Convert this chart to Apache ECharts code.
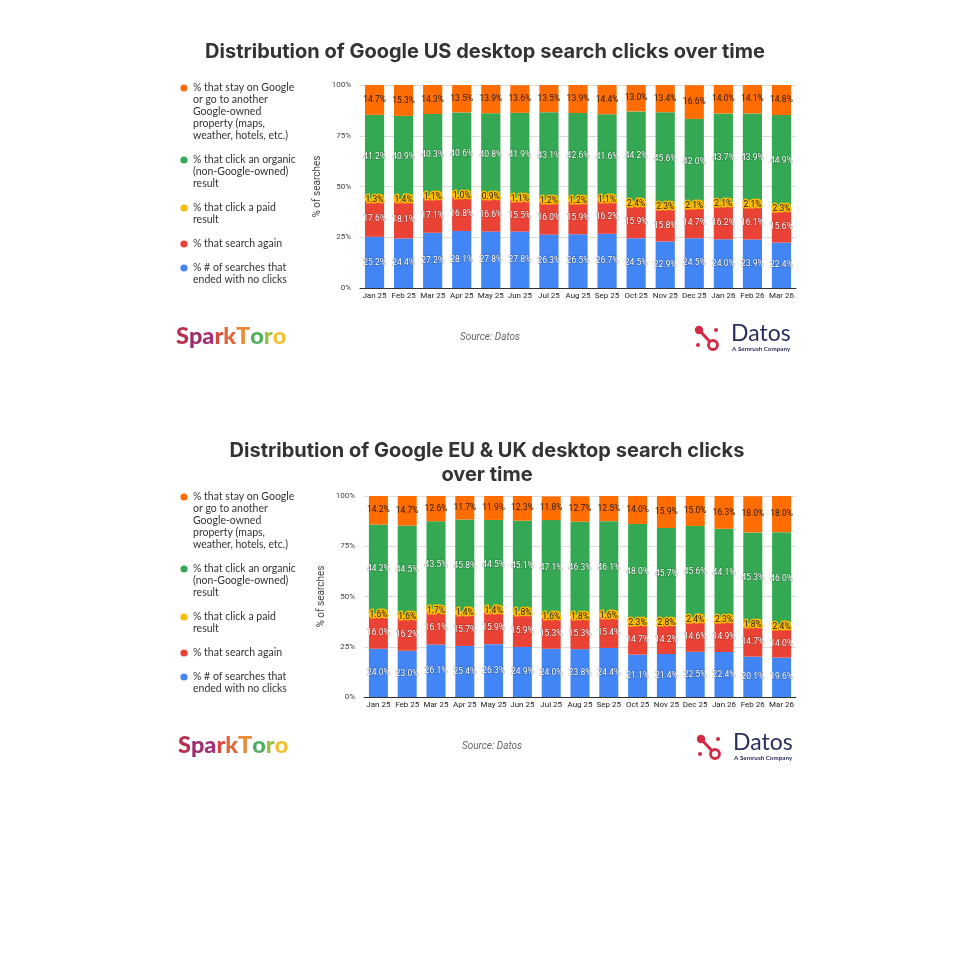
<!DOCTYPE html>
<html>
<head>
<meta charset="utf-8">
<script src="https://cdn.jsdelivr.net/npm/echarts@6/dist/echarts.min.js"></script>
<style>
  html, body { margin: 0; padding: 0; background: #fff; }
  #chart { width: 960px; height: 960px; }
</style>
</head>
<body>
<div id="chart"></div>
<script>
const months = ['Jan 25', 'Feb 25', 'Mar 25', 'Apr 25', 'May 25', 'Jun 25', 'Jul 25', 'Aug 25',
  'Sep 25', 'Oct 25', 'Nov 25', 'Dec 25', 'Jan 26', 'Feb 26', 'Mar 26'];
const yTicks = ['0%', '25%', '50%', '75%', '100%'];

// US desktop
const usNoClick = [25.2, 24.4, 27.2, 28.1, 27.8, 27.8, 26.3, 26.5, 26.7, 24.5, 22.9, 24.5, 24.0, 23.9, 22.4];
const usSearchAgain = [17.6, 18.1, 17.1, 16.8, 16.6, 15.5, 16.0, 15.9, 16.2, 15.9, 15.8, 14.7, 16.2, 16.1, 15.6];
const usPaid = [1.3, 1.4, 1.1, 1.0, 0.9, 1.1, 1.2, 1.2, 1.1, 2.4, 2.3, 2.1, 2.1, 2.1, 2.3];
const usOrganic = [41.2, 40.9, 40.3, 40.6, 40.8, 41.9, 43.1, 42.6, 41.6, 44.2, 45.6, 42.0, 43.7, 43.9, 44.9];
const usGoogle = [14.7, 15.3, 14.3, 13.5, 13.9, 13.6, 13.5, 13.9, 14.4, 13.0, 13.4, 16.6, 14.0, 14.1, 14.8];

// EU & UK desktop
const euNoClick = [24.0, 23.0, 26.1, 25.4, 26.3, 24.9, 24.0, 23.8, 24.4, 21.1, 21.4, 22.5, 22.4, 20.1, 19.6];
const euSearchAgain = [16.0, 16.2, 16.1, 15.7, 15.9, 15.9, 15.3, 15.3, 15.4, 14.7, 14.2, 14.6, 14.9, 14.7, 14.0];
const euPaid = [1.6, 1.6, 1.7, 1.4, 1.4, 1.8, 1.6, 1.8, 1.6, 2.3, 2.8, 2.4, 2.3, 1.8, 2.4];
const euOrganic = [44.2, 44.5, 43.5, 45.8, 44.5, 45.1, 47.1, 46.3, 46.1, 48.0, 45.7, 45.6, 44.1, 45.3, 46.0];
const euGoogle = [14.2, 14.7, 12.6, 11.7, 11.9, 12.3, 11.8, 12.7, 12.5, 14.0, 15.9, 15.0, 16.3, 18.0, 18.0];

const seriesNames = [
  '% # of searches that\nended with no clicks',
  '% that search again',
  '% that click a paid\nresult',
  '% that click an organic\n(non-Google-owned)\nresult',
  '% that stay on Google\nor go to another\nGoogle-owned\nproperty (maps,\nweather, hotels, etc.)'
];
const colors = ['#4285F4', '#EA4335', '#FBBC04', '#34A853', '#FF6D01'];

const chart = echarts.init(document.getElementById('chart'));

function labelFor(i) {
  const dark = i === 2 || i === 4;
  return {
    show: true,
    position: 'inside',
    fontFamily: 'Roboto',
    fontSize: 8.5,
    color: dark ? '#2a1a0a' : '#fff',
    textBorderColor: i === 2 ? '#FBBC04' : (dark ? 'transparent' : 'rgba(0,0,0,0.3)'),
    textBorderWidth: i === 2 ? 3 : 1,
    formatter: p => p.value.toFixed(1) + '%'
  };
}

function makeSeries(idx, arrays) {
  return arrays.map((d, i) => ({
    name: seriesNames[i],
    type: 'bar',
    stack: 'total' + idx,
    xAxisIndex: idx,
    yAxisIndex: idx,
    barWidth: '66%',
    data: d,
    itemStyle: { color: colors[i] },
    label: labelFor(i),
    emphasis: { disabled: true }
  }));
}

function xAxisFor(idx) {
  return {
    type: 'category',
    gridIndex: idx,
    data: months,
    axisLine: { lineStyle: { color: '#333', width: 1 } },
    axisTick: { show: false },
    axisLabel: { interval: 0, fontFamily: 'Roboto', fontSize: 8, color: '#222', margin: 4 }
  };
}

function yAxisFor(idx) {
  return {
    type: 'value',
    gridIndex: idx,
    min: 0,
    max: 100,
    interval: 25,
    name: '% of searches',
    nameLocation: 'middle',
    nameGap: 38,
    nameTextStyle: { fontFamily: 'Roboto', fontSize: 10, color: '#444' },
    axisLine: { show: false },
    axisTick: { show: false },
    axisLabel: {
      fontFamily: 'Roboto', fontSize: 8, color: '#444', margin: 9,
      formatter: v => yTicks[v / 25]
    },
    splitLine: { lineStyle: { color: '#dcdcdc' } }
  };
}

function legendGraphics(y0) {
  const out = [];
  let y = y0;
  for (let i = seriesNames.length - 1; i >= 0; i--) {
    const lines = seriesNames[i].split('\n').length;
    out.push({
      type: 'circle', shape: { cx: 184, cy: y, r: 3.6 },
      style: { fill: colors[i] }, silent: true
    });
    out.push({
      type: 'text',
      style: {
        x: 193, y: y - 6, text: seriesNames[i],
        fontFamily: 'Lato', fontSize: 10.5, lineHeight: 12,
        fill: '#333', verticalAlign: 'top'
      },
      silent: true
    });
    y += lines * 12 + 12;
  }
  return out;
}

const sparkLetters = ['S', 'p', 'a', 'r', 'k', 'T', 'o', 'r', 'o'];
const sparkColors = ['#b8304f', '#9b2f6e', '#a4307a', '#d9483c', '#e2663a', '#ea8a38', '#4fae5e', '#9cbf3c', '#f0c232'];

function footerGraphics(dx, dy) {
  const out = [];
  const rich = {};
  sparkLetters.forEach((c, i) => {
    rich['l' + i] = { fill: sparkColors[i], fontFamily: 'Lato', fontWeight: 900, fontSize: 23.5 };
  });
  out.push({
    type: 'text',
    style: {
      x: 176 + dx, y: 336 + dy, verticalAlign: 'middle',
      text: sparkLetters.map((c, i) => '{l' + i + '|' + c + '}').join(''),
      rich: rich
    },
    silent: true
  });
  out.push({
    type: 'text',
    style: {
      x: 490 + dx, y: 337 + dy, align: 'center', verticalAlign: 'middle',
      text: 'Source: Datos', fontFamily: 'Roboto', fontStyle: 'italic',
      fontSize: 10, fill: '#666'
    },
    silent: true
  });
  const red = '#d42a45';
  out.push({ type: 'line', shape: { x1: 699 + dx, y1: 330 + dy, x2: 712 + dx, y2: 344 + dy }, style: { stroke: red, lineWidth: 3 }, silent: true });
  out.push({ type: 'circle', shape: { cx: 699 + dx, cy: 330 + dy, r: 4.2 }, style: { fill: red }, silent: true });
  out.push({ type: 'circle', shape: { cx: 713 + dx, cy: 345 + dy, r: 4.5 }, style: { fill: '#fff', stroke: red, lineWidth: 2.8 }, silent: true });
  out.push({ type: 'circle', shape: { cx: 716 + dx, cy: 330 + dy, r: 2 }, style: { fill: red }, silent: true });
  out.push({ type: 'circle', shape: { cx: 698 + dx, cy: 345 + dy, r: 2 }, style: { fill: red }, silent: true });
  out.push({
    type: 'text',
    style: {
      x: 731 + dx, y: 334 + dy, verticalAlign: 'middle', text: 'Datos',
      fontFamily: 'Lato', fontSize: 23, fill: '#2b2f5e'
    },
    silent: true
  });
  out.push({
    type: 'text',
    style: {
      x: 732 + dx, y: 349 + dy, verticalAlign: 'middle', text: 'A Semrush Company',
      fontFamily: 'Lato', fontWeight: 'bold', fontSize: 6.3, fill: '#2b2f5e'
    },
    silent: true
  });
  return out;
}

const titleStyle = { fontFamily: 'Inter', fontWeight: 'bold', fontSize: 20, fill: '#333', align: 'center', verticalAlign: 'middle' };

const option = {
  animation: false,
  backgroundColor: '#fff',
  grid: [
    { left: 360, top: 85, width: 436, height: 203 },
    { left: 364, top: 496, width: 432, height: 201 }
  ],
  xAxis: [xAxisFor(0), xAxisFor(1)],
  yAxis: [yAxisFor(0), yAxisFor(1)],
  series: [
    ...makeSeries(0, [usNoClick, usSearchAgain, usPaid, usOrganic, usGoogle]),
    ...makeSeries(1, [euNoClick, euSearchAgain, euPaid, euOrganic, euGoogle])
  ],
  graphic: [
    { type: 'text', style: Object.assign({ x: 485, y: 52, text: 'Distribution of Google US desktop search clicks over time' }, titleStyle), silent: true },
    { type: 'text', style: Object.assign({ x: 487, y: 463, lineHeight: 24, text: 'Distribution of Google EU & UK desktop search clicks\nover time' }, titleStyle), silent: true },
    ...legendGraphics(88),
    ...legendGraphics(497),
    ...footerGraphics(0, 0),
    ...footerGraphics(2, 409)
  ]
};

chart.setOption(option);
</script>
</body>
</html>
